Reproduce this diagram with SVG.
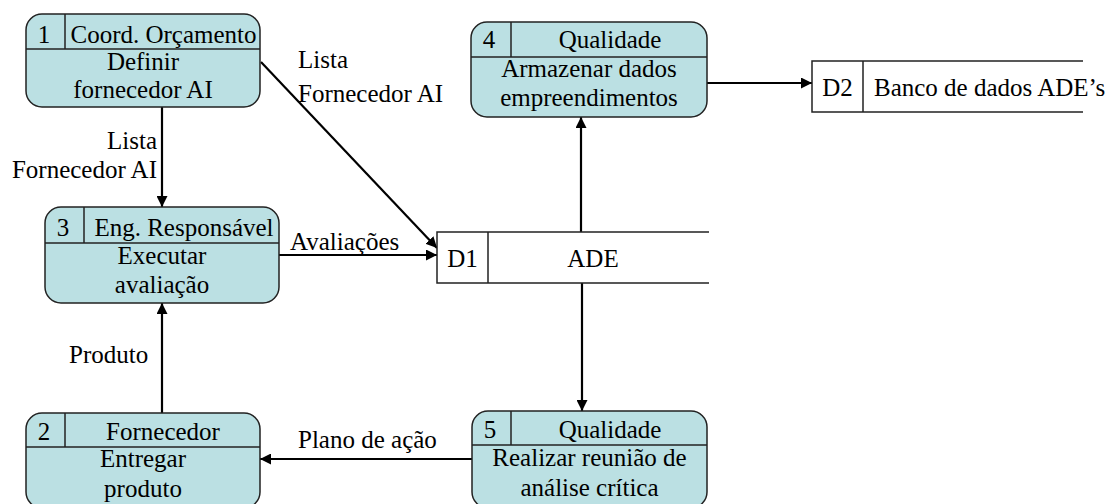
<svg xmlns="http://www.w3.org/2000/svg" width="1117" height="504" viewBox="0 0 1117 504">
<style>
text{font-family:'Liberation Serif','Times New Roman',serif;font-size:25px;fill:#000}
.m{text-anchor:middle}
.e{text-anchor:end}
.box{fill:#bbe0e3;stroke:#222;stroke-width:1.5}
.ln{stroke:#222;stroke-width:1.5;fill:none}
.c{stroke:#000;stroke-width:2.2;fill:none;marker-end:url(#ah)}
</style>
<defs>
<marker id="ah" viewBox="0 0 10 10" refX="10" refY="5" markerWidth="5" markerHeight="5" orient="auto" markerUnits="strokeWidth">
<path d="M0,0 L10,5 L0,10 z" fill="#000"/>
</marker>
</defs>
<g id="connectors">
<line class="c" x1="162" y1="107" x2="162" y2="207"/>
<line class="c" x1="261" y1="62" x2="437" y2="248"/>
<line class="c" x1="279" y1="255" x2="437" y2="255"/>
<line class="c" x1="581" y1="232" x2="581" y2="117"/>
<line class="c" x1="707" y1="83" x2="812" y2="83"/>
<line class="c" x1="582" y1="283" x2="582" y2="411"/>
<line class="c" x1="472" y1="459" x2="260" y2="459"/>
<line class="c" x1="162" y1="413" x2="162" y2="303"/>
<text class="e" x="157" y="149">Lista</text>
<text class="e" x="157" y="178">Fornecedor AI</text>
<text x="298" y="68">Lista</text>
<text x="298" y="102">Fornecedor AI</text>
<text x="290" y="250">Avaliações</text>
<text x="69" y="363">Produto</text>
<text x="298" y="448">Plano de ação</text>
</g>
<g id="n1">
<rect class="box" x="26" y="14" width="234" height="93" rx="16"/>
<line class="ln" x1="26" y1="49" x2="260" y2="49"/>
<line class="ln" x1="65" y1="14" x2="65" y2="49"/>
<text class="m" x="44" y="43">1</text>
<text class="m" x="163.5" y="43">Coord. Orçamento</text>
<text class="m" x="143" y="70">Definir</text>
<text class="m" x="143" y="98">fornecedor AI</text>
</g>
<g id="n3">
<rect class="box" x="45" y="207" width="234" height="96" rx="16"/>
<line class="ln" x1="45" y1="243" x2="279" y2="243"/>
<line class="ln" x1="84" y1="207" x2="84" y2="243"/>
<text class="m" x="63" y="236">3</text>
<text class="m" x="184" y="236">Eng. Responsável</text>
<text class="m" x="162" y="264">Executar</text>
<text class="m" x="162" y="293">avaliação</text>
</g>
<g id="n4">
<rect class="box" x="471" y="22" width="236" height="95" rx="16"/>
<line class="ln" x1="471" y1="57" x2="707" y2="57"/>
<line class="ln" x1="511" y1="22" x2="511" y2="57"/>
<text class="m" x="489" y="48">4</text>
<text class="m" x="610" y="48">Qualidade</text>
<text class="m" x="589" y="77">Armazenar dados</text>
<text class="m" x="589" y="106">empreendimentos</text>
</g>
<g id="n2">
<rect class="box" x="26" y="413" width="234" height="95" rx="16"/>
<line class="ln" x1="26" y1="447" x2="260" y2="447"/>
<line class="ln" x1="65" y1="413" x2="65" y2="447"/>
<text class="m" x="44" y="440">2</text>
<text class="m" x="163" y="440">Fornecedor</text>
<text class="m" x="143" y="467">Entregar</text>
<text class="m" x="143" y="497">produto</text>
</g>
<g id="n5">
<rect class="box" x="472" y="411" width="235" height="97" rx="16"/>
<line class="ln" x1="472" y1="445" x2="707" y2="445"/>
<line class="ln" x1="511" y1="411" x2="511" y2="445"/>
<text class="m" x="490" y="438">5</text>
<text class="m" x="610" y="438">Qualidade</text>
<text class="m" x="589.5" y="466">Realizar reunião de</text>
<text class="m" x="589.5" y="496">análise crítica</text>
</g>
<g id="d1">
<rect x="437" y="232" width="272" height="51" fill="#fff"/>
<path class="ln" d="M709,232 H437 V283 H709 M488,232 V283" stroke="#000"/>
<text class="m" x="462.5" y="267">D1</text>
<text class="m" x="593" y="267">ADE</text>
</g>
<g id="d2">
<rect x="812" y="61" width="271" height="51" fill="#fff"/>
<path class="ln" d="M1083,61 H812 V112 H1083 M863,61 V112" stroke="#000"/>
<text class="m" x="837.5" y="96">D2</text>
<text x="874" y="96">Banco de dados ADE’s</text>
</g>
</svg>
